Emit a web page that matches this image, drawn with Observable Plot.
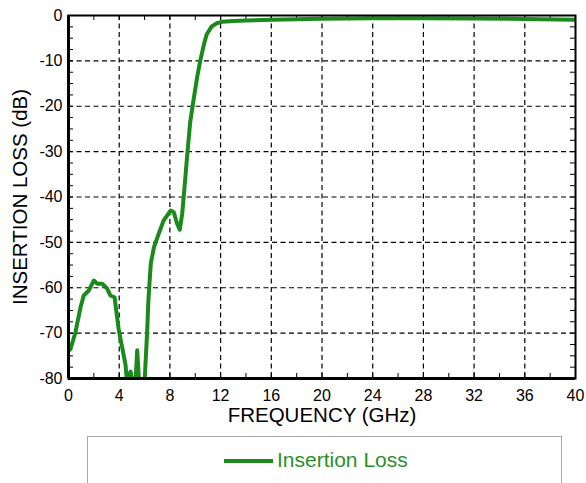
<!DOCTYPE html>
<html>
<head>
<meta charset="utf-8">
<script src="https://cdn.jsdelivr.net/npm/d3@7"></script>
<script src="https://cdn.jsdelivr.net/npm/@observablehq/plot@0.6"></script>
<style>
  html, body { margin: 0; padding: 0; background: #fff; overflow: hidden; }
  body { font-family: "Liberation Sans", Arial, sans-serif; }
  #legend {
    margin-left: 87px; width: 475px; height: 60px;
    border: 1px solid #a8a8a8; box-sizing: border-box;
    position: relative;
  }
  #legend .sw { position: absolute; left: 136px; top: 22px; width: 49px; height: 4px; background: #1a8a1a; }
  #legend .lb { position: absolute; left: 189px; top: 11px; font-size: 21px; color: #2a8f2a; }
</style>
</head>
<body>
<div id="chart"></div>
<div id="legend"><div class="sw"></div><div class="lb">Insertion Loss</div></div>
<script>
const freq = [0, 0.16, 0.55, 0.95, 1.2, 1.6, 2.0, 2.26, 2.66, 3.05, 3.3, 3.63, 3.97, 4.23, 4.5, 4.65, 4.8, 4.9, 5.0, 5.15, 5.3, 5.42, 5.55, 5.7, 5.95, 6.07, 6.2, 6.3, 6.4, 6.5, 6.75, 7.0, 7.5, 8.05, 8.3, 8.57, 8.78, 8.97, 9.15, 9.36, 9.6, 9.9, 10.15, 10.4, 10.7, 10.9, 11.3, 11.7, 12.1, 13, 14, 16, 18, 20, 24, 28, 32, 36, 40];
const loss = [-74, -73.5, -69.8, -64.3, -61.7, -60.6, -58.4, -59.1, -59.1, -60.2, -61.7, -62.1, -69.4, -73.1, -77, -82, -79, -78.5, -80, -84, -80, -73.8, -80, -84, -84, -77, -70, -63, -58.5, -54.5, -51, -49, -45.2, -43, -43.3, -45.9, -47.2, -43.7, -38, -31, -23.5, -18, -13.6, -9.9, -6.2, -4.2, -2.4, -1.7, -1.4, -1.2, -1.1, -0.95, -0.8, -0.7, -0.6, -0.6, -0.65, -0.75, -0.95];
const xTicks = [0, 4, 8, 12, 16, 20, 24, 28, 32, 36, 40];
const yTicks = [0, -10, -20, -30, -40, -50, -60, -70, -80];
const xGrid = [4, 8, 12, 16, 20, 24, 28, 32, 36];
const yGrid = [-10, -20, -30, -40, -50, -60, -70];
const xMinor = d3.range(2, 40, 2);
const yMinor = d3.range(-77.5, 0, 2.5);
const xTitle = "FREQUENCY (GHz)";
const yTitle = "INSERTION LOSS (dB)";

const green = "#1a8a1a";
const data = freq.map((f, i) => ({f, v: loss[i]}));
const dash = {stroke: "#000", strokeOpacity: 1, strokeWidth: 1.2, strokeDasharray: "5,3.5"};

const chart = Plot.plot({
  width: 586, height: 436,
  marginLeft: 68, marginRight: 11, marginTop: 15, marginBottom: 58,
  style: {fontFamily: "'Liberation Sans', Arial, sans-serif", background: "#fff", color: "#000"},
  x: {domain: [0, 40]},
  y: {domain: [-80, 0]},
  marks: [
    Plot.gridX(xGrid, dash),
    Plot.gridY(yGrid, dash),
    Plot.tickX(xMinor, {x: d => d, insetTop: 358, stroke: "#000", strokeWidth: 1}),
    Plot.tickX(xMinor, {x: d => d, insetBottom: 358, stroke: "#000", strokeWidth: 1}),
    Plot.tickY(yMinor, {y: d => d, insetRight: 502, stroke: "#000", strokeWidth: 1}),
    Plot.tickY(yMinor, {y: d => d, insetLeft: 502, stroke: "#000", strokeWidth: 1}),
    Plot.line(data, {x: "f", y: "v", stroke: green, strokeWidth: 4, strokeLinejoin: "round", clip: true}),
    Plot.frame({stroke: "#000", strokeWidth: 2}),
    Plot.ruleX([0], {stroke: "#000", strokeWidth: 3}),
    Plot.ruleY([-80], {stroke: "#000", strokeWidth: 3}),
    Plot.axisX(xTicks, {tickSize: 0, tickPadding: 11, fontSize: 16, label: null, tickFormat: d => String(d)}),
    Plot.axisY(yTicks, {tickSize: 0, tickPadding: 6, fontSize: 16, label: null, tickFormat: d => String(d)}),
    Plot.text([xTitle], {frameAnchor: "bottom", dy: 43, fontSize: 20.5, fill: "#000"}),
    Plot.text([yTitle], {frameAnchor: "left", textAnchor: "middle", dx: -48, rotate: -90, fontSize: 20.5, fill: "#000"})
  ]
});
document.getElementById("chart").appendChild(chart);
</script>
</body>
</html>
